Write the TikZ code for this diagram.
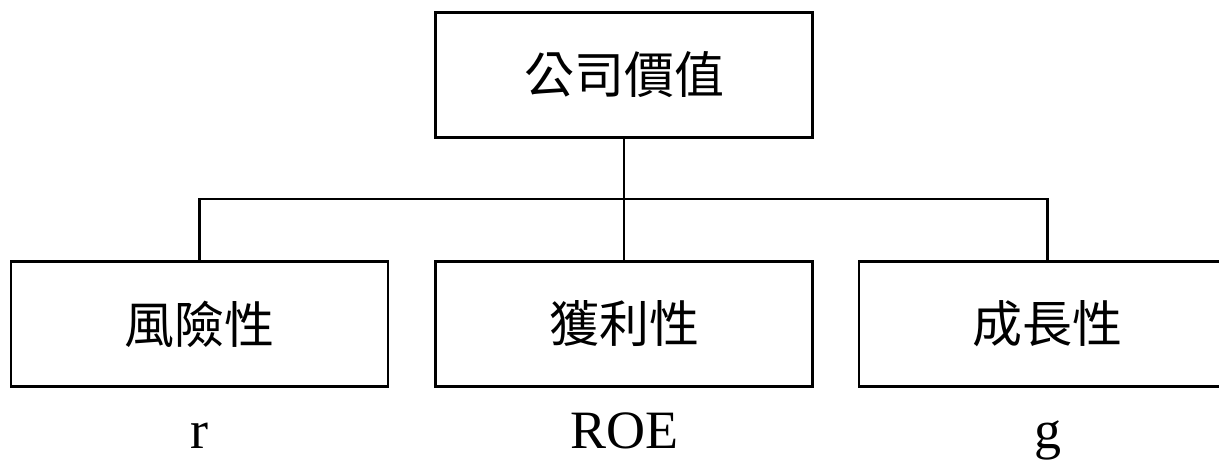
\documentclass[tikz,border=0pt]{standalone}
\usepackage{fontspec}
\setmainfont{Liberation Serif}
\newfontfamily\cjk{Noto Sans CJK TC}
\begin{document}
\begin{tikzpicture}[x=1pt,y=-1pt,
  box/.style={draw=black,line width=2.4pt,minimum width=377pt,minimum height=125pt,inner sep=0pt,font=\cjk\fontsize{50}{56}\selectfont},
  lbl/.style={anchor=base,inner sep=0pt,font=\fontsize{54}{60}\selectfont},
  conn/.style={draw=black,line width=2.4pt}]
\useasboundingbox (0,0) rectangle (1219,459);
\clip (0,0) rectangle (1219,459);
\fill[white] (0,0) rectangle (1219,459);
\node[box] (top) at (624,75) {公司價值};
\node[box] (left) at (199.5,324) {風險性};
\node[box] (mid) at (624,324) {獲利性};
\node[box] (right) at (1047.5,324) {成長性};
\coordinate (j) at (624,199);
\node[lbl] (lr) at (199.5,448) {r};
\node[lbl] (lroe) at (624,448) {ROE};
\node[lbl] (lg) at (1047.5,448) {g};
\draw[conn] (top.south) -- (mid.north);
\draw[conn] (left.north) -- (left.north |- j) -- (right.north |- j) -- (right.north);
\end{tikzpicture}
\end{document}
